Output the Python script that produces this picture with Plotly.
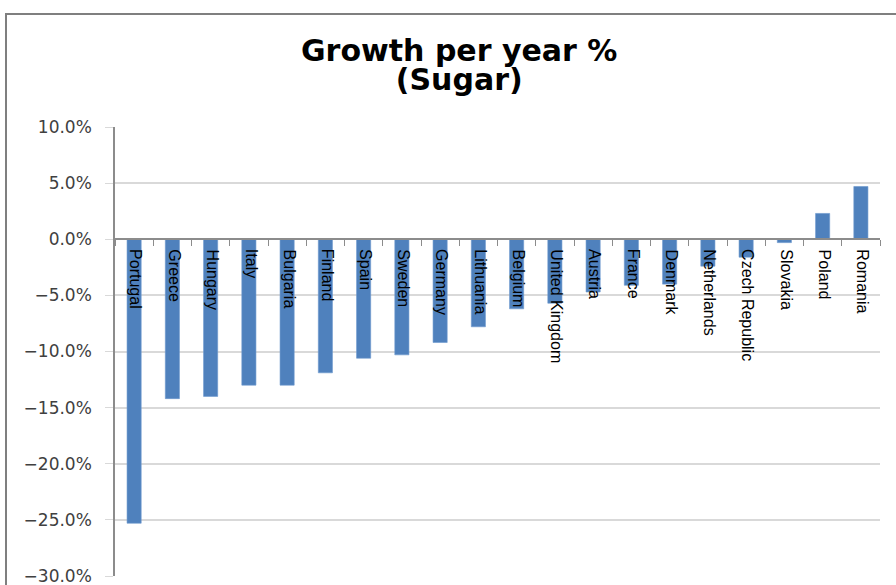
import plotly.graph_objects as go

# Annual growth of sugar consumption by country (fraction per year)
countries = [
    "Portugal", "Greece", "Hungary", "Italy", "Bulgaria", "Finland", "Spain",
    "Sweden", "Germany", "Lithuania", "Belgium", "United Kingdom", "Austria",
    "France", "Denmark", "Netherlands", "Czech Republic", "Slovakia", "Poland",
    "Romania",
]
growth = [
    -0.253, -0.142, -0.140, -0.130, -0.130, -0.119, -0.106,
    -0.103, -0.092, -0.078, -0.062, -0.057, -0.047,
    -0.041, -0.040, -0.024, -0.016, -0.003, 0.023,
    0.047,
]
y_ticks = [-0.30, -0.25, -0.20, -0.15, -0.10, -0.05, 0.0, 0.05, 0.10]
title_lines = ["Growth per year %", "(Sugar)"]

W, H = 896, 585
M_L, M_R, M_T, M_B = 115, 16, 127, 9
PLOT_W = W - M_L - M_R
PLOT_H = H - M_T - M_B
y_min, y_max = -0.30, 0.10


def paper_y(py):
    """Convert a pixel row (from the top of the page) to paper units."""
    return (H - M_B - py) / PLOT_H


def paper_x(px):
    return (px - M_L) / PLOT_W


fig = go.Figure()
fig.add_trace(go.Bar(
    x=countries,
    y=growth,
    marker=dict(color="#4F81BD", line=dict(width=0.6, color="#6C98CF")),
    width=0.37,
    xaxis="x2",
    showlegend=False,
    hoverinfo="x+y",
))

# Category labels sit just under the zero line, rotated to read downwards
for c in countries:
    fig.add_annotation(
        x=c, y=0, xref="x2", yref="y",
        text=c, textangle=90, showarrow=False,
        xanchor="center", yanchor="top", yshift=-8, xshift=2,
        font=dict(family="Liberation Sans, Arial, sans-serif",
                  size=16, color="#000000"),
    )

# Two-line chart title: large glyphs on a tighter line pitch
title_html = "<br>".join(
    f"<span style='font-size:30px'>{line}</span>" for line in title_lines
)
fig.add_annotation(
    x=paper_x(459), y=paper_y(65), xref="paper", yref="paper",
    text=f"<b>{title_html}</b>", showarrow=False, borderpad=0,
    xanchor="center", yanchor="middle",
    font=dict(family="DejaVu Sans, sans-serif", size=22, color="#000000"),
)

zero_pos = (0 - y_min) / (y_max - y_min)

fig.update_layout(
    width=W, height=H,
    margin=dict(l=M_L, r=M_R, t=M_T, b=M_B, pad=0, autoexpand=False),
    paper_bgcolor="white", plot_bgcolor="white",
    xaxis=dict(visible=False, range=[-0.5, len(countries) - 0.5]),
    xaxis2=dict(
        type="category", anchor="free", position=zero_pos, overlaying="x",
        range=[-0.5, len(countries) - 0.5],
        showline=True, linecolor="#8C8C8C", linewidth=1.5,
        ticks="outside", tickson="boundaries", ticklen=6, tickcolor="#8C8C8C",
        showticklabels=False, showgrid=False, zeroline=False,
    ),
    yaxis=dict(
        range=[y_min - 1e-6, y_max + 1e-6], tickvals=y_ticks, tickformat=".1%",
        showgrid=True, gridcolor="#D9D9D9", gridwidth=1.5,
        showline=True, linecolor="#8C8C8C", linewidth=1.5,
        ticks="outside", ticklen=8, tickcolor="#D9D9D9",
        ticklabelstandoff=10, ticklabeloverflow="allow",
        automargin=False, zeroline=False,
        tickfont=dict(family="DejaVu Sans, sans-serif", size=17, color="#404040"),
    ),
)

# Outer chart frame
fig.add_shape(
    type="rect", xref="paper", yref="paper",
    x0=paper_x(6), x1=paper_x(W + 10),
    y0=paper_y(H + 20), y1=paper_y(14),
    line=dict(color="#7F7F7F", width=2), layer="below",
)

fig.write_html("out.html")
